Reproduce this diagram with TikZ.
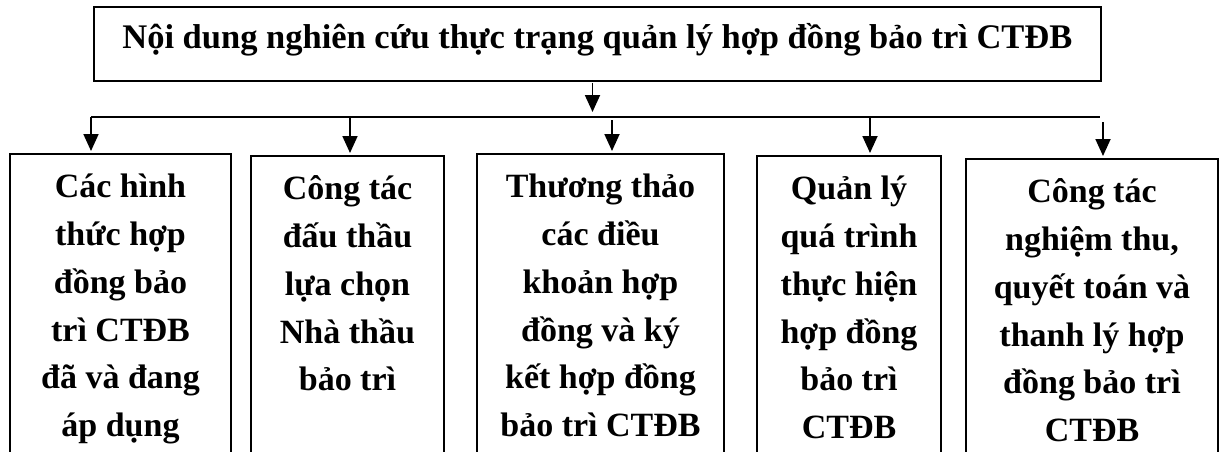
\documentclass[tikz,border=0pt]{standalone}
\usepackage{fontspec}
\setmainfont{Liberation Serif}
\usetikzlibrary{arrows.meta}
\begin{document}
\begin{tikzpicture}[x=1pt,y={(0pt,-1pt)},
  frame/.style={draw,line width=1.8pt,inner sep=0pt},
  item/.style={frame,anchor=north,font=\bfseries\fontsize{34}{47.7}\selectfont},
  link/.style={line width=1.8pt},
  arr/.style={link,-{Triangle[width=15pt,length=17pt]},shorten >=2pt}]
% page area
\clip (0,0) rectangle (1221,452);
\fill[white] (0,0) rectangle (1221,452);

% title box: baseline 42pt below the top edge
\node[frame,anchor=north west,minimum width=1007pt,text height=42pt,text depth=32pt,
      font=\bfseries\fontsize{34.5}{40}\selectfont] (top) at (93,6)
  {Nội dung nghiên cứu thực trạng quản lý hợp đồng bảo trì CTĐB};

% five topic boxes, text set from the top; the boxes run past the lower edge
\newcommand\topictext[2]{\parbox[t][330pt][t]{#1}{\centering\rule{0pt}{44pt}#2}}
\node[item] (b1) at (120.5,153) {\topictext{221pt}{Các hình\\thức hợp\\đồng bảo\\trì CTĐB\\đã và đang\\áp dụng}};
\node[item] (b2) at (347.5,155) {\topictext{193pt}{Công tác\\đấu thầu\\lựa chọn\\Nhà thầu\\bảo trì}};
\node[item] (b3) at (600.5,153) {\topictext{247pt}{Thương thảo\\các điều\\khoản hợp\\đồng và ký\\kết hợp đồng\\bảo trì CTĐB}};
\node[item] (b4) at (849,155) {\topictext{184pt}{Quản lý\\quá trình\\thực hiện\\hợp đồng\\bảo trì\\CTĐB}};
\node[item] (b5) at (1092,158) {\topictext{252pt}{Công tác\\nghiệm thu,\\quyết toán và\\thanh lý hợp\\đồng bảo trì\\CTĐB}};

% distribution line and arrow from the title
\coordinate (hubA) at (592.5,83);
\coordinate (hubB) at (592.5,114);
\coordinate (busL) at (91,117);
\coordinate (busR) at (1100,117);
\coordinate (s2) at (350,117);
\coordinate (s3) at (612,120);
\coordinate (s4) at (870,117);
\coordinate (s5) at (1103,122);

\draw[arr] (hubA) -- (hubB);
\draw[link] (busL) -- (busR);
\draw[arr] (busL) -- (busL |- b1.north);
\draw[arr] (s2) -- (s2 |- b2.north);
\draw[arr] (s3) -- (s3 |- b3.north);
\draw[arr] (s4) -- (s4 |- b4.north);
\draw[arr] (s5) -- (s5 |- b5.north);
\end{tikzpicture}
\end{document}
